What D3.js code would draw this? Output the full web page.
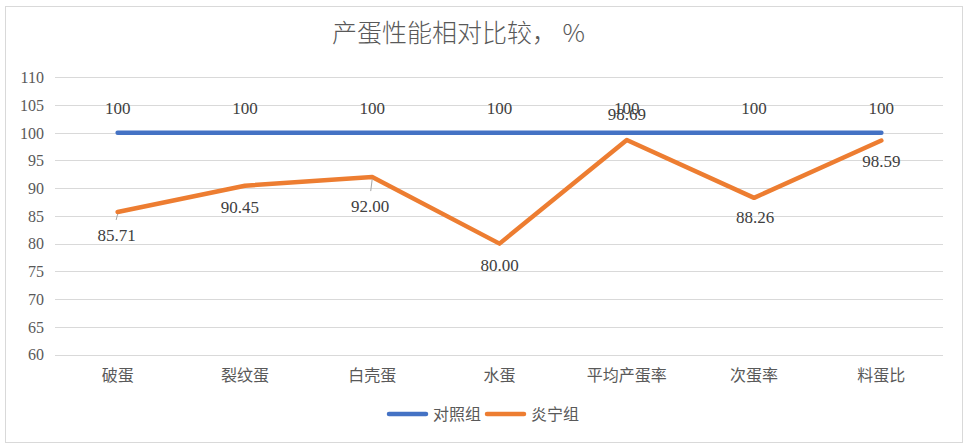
<!DOCTYPE html>
<html><head><meta charset="utf-8">
<script src="https://cdn.jsdelivr.net/npm/d3@7"></script>
<style>
html,body{margin:0;padding:0;background:#fff;}
svg{display:block;}
</style></head>
<body>
<svg id="chart" width="969" height="448"></svg>
<script>
const title = "产蛋性能相对比较， %";
const categories = ["破蛋","裂纹蛋","白壳蛋","水蛋","平均产蛋率","次蛋率","料蛋比"];
const controlValues = [100,100,100,100,100,100,100];
const yanningValues = [85.71,90.45,92.00,80.00,98.69,88.26,98.59];
const yanningLabels = ["85.71","90.45","92.00","80.00","98.69","88.26","98.59"];
const yTicks = [60,65,70,75,80,85,90,95,100,105,110];
const seriesNames = ["对照组","炎宁组"];

const colors = ["#4472C4","#ED7D31"];
const textColor = "#595959";
const svg = d3.select("#chart");
const serif = "Liberation Serif, Times New Roman, serif";

// outer border
svg.append("rect").attr("x",5.5).attr("y",6.5).attr("width",957).attr("height",436)
  .attr("fill","#fff").attr("stroke","#d9d9d9").attr("stroke-width",1);

const x = d3.scaleBand().domain(categories).range([54,945]).padding(0);
const y = d3.scaleLinear().domain([60,110]).range([354.5,77.3]);
const cx = d => x(d) + x.bandwidth()/2;

// gridlines
svg.append("g").selectAll("line").data(yTicks).join("line")
  .attr("x1",55).attr("x2",943)
  .attr("y1",d=>Math.round(y(d))+0.5).attr("y2",d=>Math.round(y(d))+0.5)
  .attr("stroke","#d9d9d9").attr("stroke-width",1);

// y axis labels
const yAxis = d3.axisLeft(y).tickValues(yTicks).tickSize(0).tickPadding(0);
const gy = svg.append("g").attr("transform","translate(44,0)").call(yAxis);
gy.attr("font-family",null).attr("font-size",null);
gy.select(".domain").remove();
gy.selectAll("text").style("font-family",serif).style("font-size","16px")
  .attr("fill",textColor).attr("dy","0.33em");

// x axis labels
const xAxis = d3.axisBottom(x).tickSize(0).tickPadding(0);
const gx = svg.append("g").attr("transform","translate(0,375)").call(xAxis);
gx.select(".domain").remove();
gx.selectAll("text").style("font-family","Noto Sans CJK SC, sans-serif").style("font-size","16px")
  .attr("fill",textColor).attr("dy","0.35em");

// title
svg.append("text").attr("x",332).attr("y",33).attr("dy","0.35em")
  .style("font-family","Noto Sans CJK SC, sans-serif").style("font-size","25px")
  .attr("font-weight",300).attr("fill",textColor).text(title);

const line = d3.line().x((d,i)=>cx(categories[i])).y(d=>y(d));

// control line
svg.append("path").datum(controlValues).attr("d",line).attr("fill","none")
  .attr("stroke",colors[0]).attr("stroke-width",4.5).attr("stroke-linecap","round").attr("stroke-linejoin","round");
// yanning line
svg.append("path").datum(yanningValues).attr("d",line).attr("fill","none")
  .attr("stroke",colors[1]).attr("stroke-width",4.5).attr("stroke-linecap","round").attr("stroke-linejoin","round");

// leader lines for two labels
const leaderIdx = [0,2];
svg.append("g").selectAll("line").data(leaderIdx).join("line")
  .attr("x1",i=>cx(categories[i])).attr("y1",i=>y(yanningValues[i])+2)
  .attr("x2",i=>cx(categories[i])-1.5).attr("y2",i=>y(yanningValues[i])+(i===2?14:8))
  .attr("stroke","#a6a6a6").attr("stroke-width",1);

// control labels
svg.append("g").selectAll("text").data(controlValues).join("text")
  .attr("x",(d,i)=>cx(categories[i])).attr("y",d=>y(d)-25).attr("dy","0.35em")
  .attr("text-anchor","middle").style("font-family",serif).style("font-size","17px")
  .attr("fill","#404040").text(d=>d);

// yanning labels (offsets relative to point)
const labelDy = [23,21,29,21,-26,19,20];
const labelDx = [-1,-5,-2,0,0,1,0];
svg.append("g").selectAll("text").data(yanningValues).join("text")
  .attr("x",(d,i)=>cx(categories[i])+labelDx[i]).attr("y",(d,i)=>y(d)+labelDy[i]).attr("dy","0.35em")
  .attr("text-anchor","middle").style("font-family",serif).style("font-size","17px")
  .attr("fill","#404040").text((d,i)=>yanningLabels[i]);

// legend
const legend = svg.append("g");
const legendItems = [{x:387,name:seriesNames[0],c:colors[0]},{x:485,name:seriesNames[1],c:colors[1]}];
legendItems.forEach(it=>{
  legend.append("line").attr("x1",it.x+2).attr("x2",it.x+39).attr("y1",414).attr("y2",414)
    .attr("stroke",it.c).attr("stroke-width",4.5).attr("stroke-linecap","round");
  legend.append("text").attr("x",it.x+46).attr("y",414).attr("dy","0.35em")
    .style("font-family","Noto Sans CJK SC, sans-serif").style("font-size","16px")
    .attr("fill",textColor).text(it.name);
});
</script>
</body></html>
